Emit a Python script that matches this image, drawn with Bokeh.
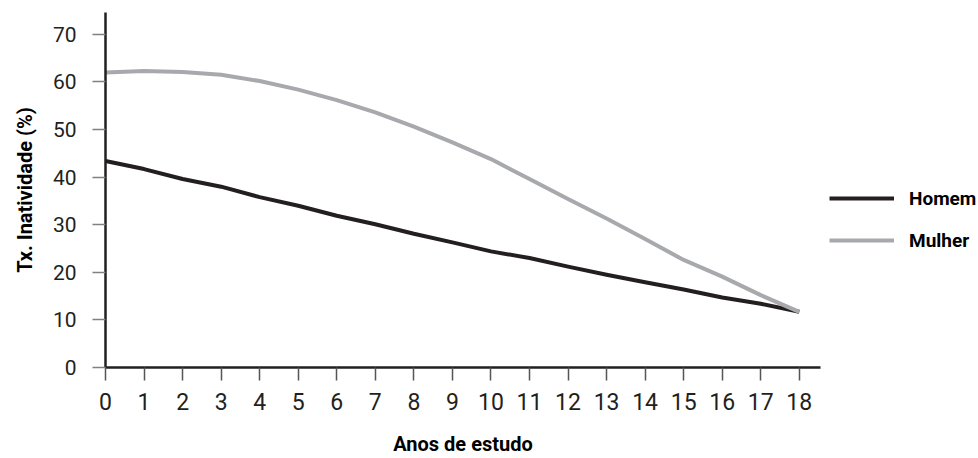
from bokeh.plotting import figure
from bokeh.models import Range1d, FixedTicker, Legend, LegendItem, ColumnDataSource
from bokeh.embed import file_html
from bokeh.resources import INLINE

# Data
anos = [0, 1, 2, 3, 4, 5, 6, 7, 8, 9, 10, 11, 12, 13, 14, 15, 16, 17, 18]
homem = [43.4, 41.7, 39.6, 38.0, 35.8, 34.0, 31.9, 30.1, 28.1, 26.3, 24.4, 23.0,
         21.2, 19.5, 17.9, 16.4, 14.7, 13.4, 11.7]
mulher = [62.0, 62.3, 62.1, 61.5, 60.2, 58.4, 56.2, 53.6, 50.6, 47.3, 43.8, 39.6,
          35.4, 31.3, 27.0, 22.6, 19.1, 15.2, 11.7]
y_ticks = [0, 10, 20, 30, 40, 50, 60, 70]
series_names = ["Homem", "Mulher"]
x_title = "Anos de estudo"
y_title = "Tx. Inatividade (%)"

TICK_FONT = "Roboto"
TITLE_FONT = "Roboto"

p = figure(
    frame_width=715, frame_height=355,
    min_border_left=105, min_border_top=12, min_border_right=158, min_border_bottom=91,
    x_range=Range1d(0, 18.55), y_range=Range1d(0, 74.6),
    output_backend="svg", toolbar_location=None,
)
p.outline_line_color = None
p.xgrid.grid_line_color = None
p.ygrid.grid_line_color = None
p.background_fill_color = "white"
p.border_fill_color = "white"

src = ColumnDataSource(dict(x=anos, h=homem, m=mulher))
r_h = p.line("x", "h", source=src, line_color="#231f20", line_width=4, line_join="round")
r_m = p.line("x", "m", source=src, line_color="#a7a9ac", line_width=4, line_join="round")

# X axis
xa = p.xaxis[0]
xa.ticker = FixedTicker(ticks=anos)
xa.axis_line_color = "#231f20"
xa.axis_line_width = 2.5
xa.major_tick_line_color = "#555555"
xa.major_tick_line_width = 1.5
xa.major_tick_in = 0
xa.major_tick_out = 13
xa.minor_tick_line_color = None
xa.major_label_standoff = 12
xa.major_label_text_font = TICK_FONT
xa.major_label_text_font_size = "23px"
xa.major_label_text_color = "#231f20"
xa.axis_label = x_title
xa.axis_label_text_font = TITLE_FONT
xa.axis_label_text_font_style = "bold"
xa.axis_label_text_font_size = "20px"
xa.axis_label_text_color = "#000000"
xa.axis_label_standoff = 19

# Y axis
ya = p.yaxis[0]
ya.ticker = FixedTicker(ticks=y_ticks)
ya.axis_line_color = "#231f20"
ya.axis_line_width = 2.5
ya.major_tick_line_color = "#808080"
ya.major_tick_line_width = 1.5
ya.major_tick_in = 0
ya.major_tick_out = 13
ya.minor_tick_line_color = None
ya.major_label_standoff = 16
ya.major_label_text_font = TICK_FONT
ya.major_label_text_font_size = "21px"
ya.major_label_text_color = "#231f20"
ya.axis_label = y_title
ya.axis_label_text_font = TITLE_FONT
ya.axis_label_text_font_style = "bold"
ya.axis_label_text_font_size = "20px"
ya.axis_label_text_color = "#000000"
ya.axis_label_standoff = 13

legend = Legend(
    items=[LegendItem(label=series_names[0], renderers=[r_h]),
           LegendItem(label=series_names[1], renderers=[r_m])],
    location=(9, 112),
    glyph_width=65, glyph_height=30, label_height=30,
    label_standoff=15, spacing=12, padding=0, margin=0,
    border_line_color=None, background_fill_alpha=0,
    label_text_font=TITLE_FONT, label_text_font_style="bold",
    label_text_font_size="19px", label_text_color="#000000",
)
p.add_layout(legend, "right")

open("out.html", "w").write(file_html(p, INLINE))
